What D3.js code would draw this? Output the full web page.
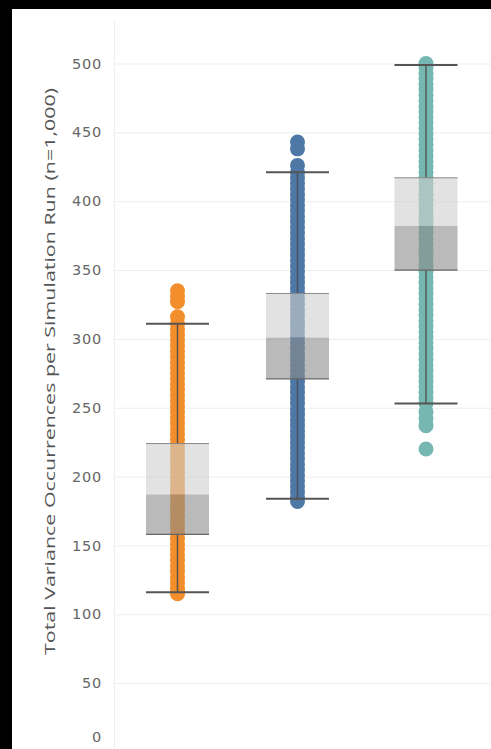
<!DOCTYPE html>
<html>
<head>
<meta charset="utf-8">
<script src="https://cdn.jsdelivr.net/npm/d3@7"></script>
<style>
  html, body { margin: 0; padding: 0; background: #000; }
  svg { display: block; }
</style>
</head>
<body>
<svg id="chart" width="491" height="749"></svg>
<script>
// Scenarios (one column of simulation runs each)
const categories = ["Scenario A", "Scenario B", "Scenario C"];
const seriesColors = ["#f28e2b", "#4e79a7", "#76b7b2"];

// Box-plot summary per scenario
const whiskerHigh = [311, 421, 499];
const q3 = [224, 333, 417];
const median = [187, 301, 382];
const q1 = [158, 271, 350];
const whiskerLow = [116, 184, 253];

// Distinct run totals per scenario (overlapping circles form the strip)
const pointsA = [335, 331, 327, 316, 311, 307, 303, 299, 295, 291, 287, 283, 279, 275, 271, 267, 263, 259,
  255, 251, 247, 243, 239, 235, 231, 227, 223, 219, 215, 211, 207, 203, 199, 195, 191, 187, 183,
  179, 175, 171, 167, 163, 159, 155, 151, 147, 143, 139, 135, 131, 127, 123, 119, 116, 115];
const pointsB = [443, 438, 426, 421, 417, 413, 409, 405, 401, 397, 393, 389, 385, 381, 377, 373, 369, 365,
  361, 357, 353, 349, 345, 341, 337, 333, 329, 325, 321, 317, 313, 309, 305, 301, 297, 293, 289,
  285, 281, 277, 273, 269, 265, 261, 257, 253, 249, 245, 241, 237, 233, 229, 225, 221, 217, 213,
  209, 205, 201, 197, 193, 189, 185, 182];
const pointsC = [500, 497, 493, 489, 485, 481, 477, 473, 469, 465, 461, 457, 453, 449, 445, 441, 437, 433,
  429, 425, 421, 417, 413, 409, 405, 401, 397, 393, 389, 385, 381, 377, 373, 369, 365, 361, 357,
  353, 349, 345, 341, 337, 333, 329, 325, 321, 317, 313, 309, 305, 301, 297, 293, 289, 285, 281,
  277, 273, 269, 265, 261, 257, 253, 247, 242, 237, 220];
const pointSets = [pointsA, pointsB, pointsC];

const yTicks = [0, 50, 100, 150, 200, 250, 300, 350, 400, 450, 500];
const yTitle = "Total Variance Occurrences per Simulation Run (n=1,000)";

// Layout
const W = 491, H = 749;
const panel = { left: 12, top: 9 };
const plot = { left: 114, right: 491, top: 63.5, bottom: 752 };
const columnCentres = [177.5, 297.5, 426];
const boxWidth = 63;
const dotRadius = 7.5;

const svg = d3.select("#chart");

// black frame with white sheet
svg.append("rect").attr("width", W).attr("height", H).attr("fill", "#000");
svg.append("rect").attr("x", panel.left).attr("y", panel.top)
  .attr("width", W - panel.left).attr("height", H - panel.top).attr("fill", "#fff");

const y = d3.scaleLinear().domain([0, 500]).range([plot.bottom, plot.top]);
const x = d3.scaleOrdinal().domain(categories).range(columnCentres);
const color = d3.scaleOrdinal().domain(categories).range(seriesColors);

// gridlines
svg.append("g").selectAll("line").data(yTicks).join("line")
  .attr("x1", plot.left).attr("x2", plot.right)
  .attr("y1", d => y(d) + 0.5).attr("y2", d => y(d) + 0.5)
  .attr("stroke", "#eeeeee").attr("stroke-width", 1);

// y axis baseline
svg.append("line")
  .attr("x1", plot.left + 0.5).attr("x2", plot.left + 0.5)
  .attr("y1", panel.top + 12).attr("y2", H)
  .attr("stroke", "#f0f0f0");

// y axis labels
const yAxis = d3.axisLeft(y).tickValues(yTicks).tickSize(0).tickPadding(12);
const gAxis = svg.append("g").attr("transform", `translate(${plot.left},0)`).call(yAxis);
gAxis.select(".domain").remove();
gAxis.selectAll(".tick text")
  .attr("fill", "#666")
  .style("font-family", "'DejaVu Sans', sans-serif")
  .style("font-size", "14.5px")
  .style("letter-spacing", "0.8px");
// keep the bottom label inside the sheet
gAxis.selectAll(".tick").each(function (d) {
  const ty = y(d);
  if (ty > H - 12) {
    d3.select(this).attr("transform", `translate(0,${H - 12})`);
  }
});

// axis title
svg.append("text")
  .attr("transform", `translate(55,${(88 + 655) / 2}) rotate(-90)`)
  .attr("text-anchor", "middle")
  .attr("fill", "#555")
  .attr("textLength", 567)
  .attr("lengthAdjust", "spacingAndGlyphs")
  .style("font-family", "'Open Sans', sans-serif")
  .style("font-size", "14.5px")
  .text(yTitle);

// points
categories.forEach((c, i) => {
  svg.append("g").selectAll("circle").data(pointSets[i]).join("circle")
    .attr("cx", x(c)).attr("cy", d => y(d))
    .attr("r", dotRadius)
    .attr("fill", color(c));
});

// whiskers
categories.forEach((c, i) => {
  const g = svg.append("g");
  const cx = x(c);
  g.append("line").attr("x1", cx).attr("x2", cx)
    .attr("y1", y(whiskerHigh[i])).attr("y2", y(q3[i]))
    .attr("stroke", "#4a4a4a").attr("stroke-opacity", 0.85).attr("stroke-width", 1.5);
  g.append("line").attr("x1", cx).attr("x2", cx)
    .attr("y1", y(q1[i])).attr("y2", y(whiskerLow[i]))
    .attr("stroke", "#4a4a4a").attr("stroke-opacity", 0.85).attr("stroke-width", 1.5);
  [whiskerHigh[i], whiskerLow[i]].forEach(v => {
    g.append("line").attr("x1", cx - boxWidth / 2).attr("x2", cx + boxWidth / 2)
      .attr("y1", y(v)).attr("y2", y(v))
      .attr("stroke", "#555").attr("stroke-width", 2);
  });
});

// boxes: upper half (median–Q3) light, lower half (Q1–median) dark
categories.forEach((c, i) => {
  const g = svg.append("g");
  const cx = x(c);
  g.append("rect")
    .attr("x", cx - boxWidth / 2).attr("width", boxWidth)
    .attr("y", y(q3[i])).attr("height", y(median[i]) - y(q3[i]))
    .attr("fill", "rgb(206,206,206)").attr("fill-opacity", 0.6);
  g.append("rect")
    .attr("x", cx - boxWidth / 2).attr("width", boxWidth)
    .attr("y", y(median[i])).attr("height", y(q1[i]) - y(median[i]))
    .attr("fill", "rgb(140,140,140)").attr("fill-opacity", 0.6);
  g.append("line").attr("x1", cx - boxWidth / 2).attr("x2", cx + boxWidth / 2)
    .attr("y1", y(q3[i])).attr("y2", y(q3[i]))
    .attr("stroke", "#888").attr("stroke-width", 1);
  g.append("line").attr("x1", cx - boxWidth / 2).attr("x2", cx + boxWidth / 2)
    .attr("y1", y(q1[i])).attr("y2", y(q1[i]))
    .attr("stroke", "#666").attr("stroke-width", 1.2);
});
</script>
</body>
</html>
